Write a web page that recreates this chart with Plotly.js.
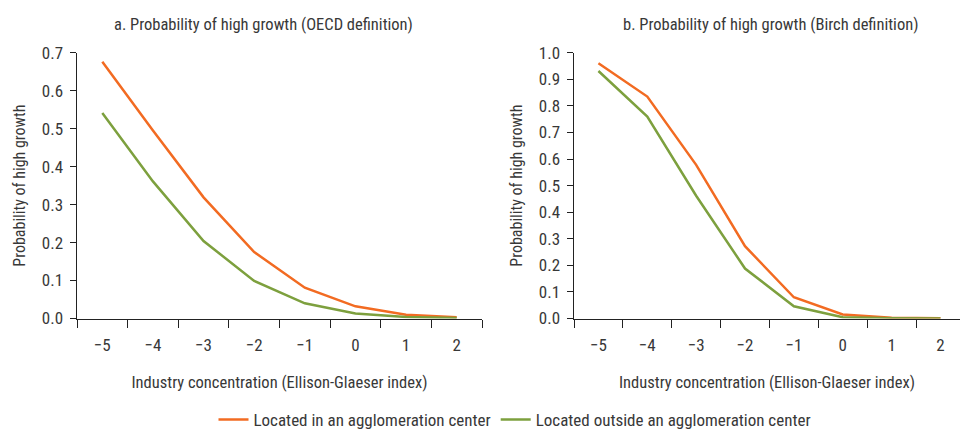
<!DOCTYPE html>
<html>
<head>
<meta charset="utf-8">
<script src="https://cdn.plot.ly/plotly-3.0.1.min.js"></script>
<style>html,body{margin:0;padding:0;background:#fff;}#chart{width:960px;height:431px;}</style>
</head>
<body>
<div id="chart"></div>
<script>
const categories = ["\u22125", "\u22124", "\u22123", "\u22122", "\u22121", "0", "1", "2"];
const oecdInCenter = [0.676, 0.495, 0.319, 0.175, 0.081, 0.032, 0.010, 0.003];
const oecdOutside = [0.541, 0.361, 0.204, 0.099, 0.040, 0.013, 0.004, 0.001];
const birchInCenter = [0.960, 0.835, 0.578, 0.272, 0.080, 0.015, 0.003, 0.001];
const birchOutside = [0.931, 0.760, 0.462, 0.188, 0.046, 0.005, 0.001, 0.000];
const yTicksA = [0, 0.1, 0.2, 0.3, 0.4, 0.5, 0.6, 0.7];
const yTicksB = [0, 0.1, 0.2, 0.3, 0.4, 0.5, 0.6, 0.7, 0.8, 0.9, 1.0];
const seriesNames = ["Located in an agglomeration center", "Located outside an agglomeration center"];
const titleA = "a. Probability of high growth (OECD definition)";
const titleB = "b. Probability of high growth (Birch definition)";
const xTitle = "Industry concentration (Ellison-Glaeser index)";
const yTitle = "Probability of high growth";

const ORANGE = "#F26B22";
const GREEN = "#7DA03E";
const FONT = "'Liberation Sans Narrow', 'Roboto Condensed', 'Arial Narrow', Roboto, sans-serif";
const TXT = "#383838";

const traces = [
  {x: categories, y: oecdInCenter, name: seriesNames[0], type: "scatter", mode: "lines", line: {color: ORANGE, width: 2.5}, xaxis: "x", yaxis: "y", showlegend: true},
  {x: categories, y: oecdOutside, name: seriesNames[1], type: "scatter", mode: "lines", line: {color: GREEN, width: 2.5}, xaxis: "x", yaxis: "y", showlegend: true},
  {x: categories, y: birchInCenter, name: seriesNames[0], type: "scatter", mode: "lines", line: {color: ORANGE, width: 2.5}, xaxis: "x2", yaxis: "y2", showlegend: false},
  {x: categories, y: birchOutside, name: seriesNames[1], type: "scatter", mode: "lines", line: {color: GREEN, width: 2.5}, xaxis: "x2", yaxis: "y2", showlegend: false}
];

const yDom = [1 - 318.5/431, 1 - 52.7/431];
const xBase = {
  type: "category", tickson: "boundaries", ticks: "outside", ticklen: 8, tickcolor: "#222",
  showline: true, linecolor: "#222", linewidth: 1.5, showgrid: false, zeroline: false,
  tickfont: {size: 17, color: TXT, family: FONT}, fixedrange: true, ticklabelstandoff: 11,
  title: {text: xTitle, font: {size: 16.5, color: TXT, family: FONT}, standoff: 22}
};
const yBase = {
  ticks: "outside", ticklen: 6, tickcolor: "#222", showline: true, linecolor: "#222", linewidth: 1.5,
  showgrid: false, zeroline: false, tickfont: {size: 17, color: TXT, family: FONT}, ticklabelstandoff: 3,
  title: {text: yTitle, font: {size: 16, color: TXT, family: FONT}, standoff: 12}
};

const layout = {
  width: 960, height: 431,
  margin: {l: 0, r: 0, t: 0, b: 0, autoexpand: false},
  paper_bgcolor: "#fff", plot_bgcolor: "#fff",
  font: {family: FONT, color: TXT},
  showlegend: true,
  legend: {orientation: "h", x: 515/960, xanchor: "center", y: -0.016, yanchor: "bottom", font: {size: 17, color: TXT, family: FONT}, itemwidth: 30, tracegroupgap: 0},
  xaxis: Object.assign({}, xBase, {domain: [77/960, 482/960], anchor: "y", range: [-0.5, 7.5]}),
  yaxis: Object.assign({}, yBase, {domain: yDom, anchor: "x", range: [0, 0.7], tickvals: yTicksA, ticktext: yTicksA.map(v => v.toFixed(1))}),
  xaxis2: Object.assign({}, xBase, {domain: [574/960, 1], anchor: "y2", range: [-0.5, 7.4]}),
  yaxis2: Object.assign({}, yBase, {domain: yDom, anchor: "x2", range: [0, 1.0], tickvals: yTicksB, ticktext: yTicksB.map(v => v.toFixed(1))}),
  annotations: [
    {text: titleA, x: 263/960, y: 1 - 24/431, xref: "paper", yref: "paper", xanchor: "center", yanchor: "middle", showarrow: false, font: {size: 16.5, color: TXT, family: FONT}},
    {text: titleB, x: 770/960, y: 1 - 24/431, xref: "paper", yref: "paper", xanchor: "center", yanchor: "middle", showarrow: false, font: {size: 16.5, color: TXT, family: FONT}}
  ]
};

Plotly.newPlot("chart", traces, layout, {displayModeBar: false, staticPlot: true});
</script>
</body>
</html>
